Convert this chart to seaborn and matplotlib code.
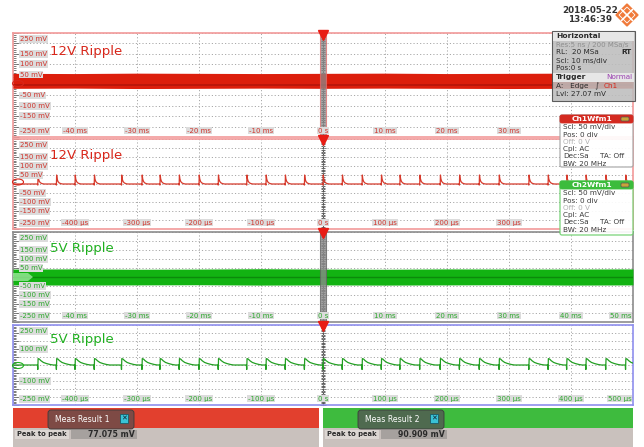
import numpy as np
import pandas as pd
import matplotlib
matplotlib.use("Agg")
import matplotlib.pyplot as plt
from matplotlib.patches import Rectangle, FancyBboxPatch, Polygon, Ellipse
from matplotlib.ticker import MultipleLocator
import seaborn as sns

# ---- values ----
# long record (10 ms/div): dense ripple shows as a band, envelope in mV
band_t_ms = [-50, -40, -30, -20, -10, 0, 10, 20, 30, 40, 50]
ripple12_hi = [56, 55, 57, 56, 55, 56, 57, 55, 56, 57, 56]
ripple12_lo = [-16, -15, -17, -16, -15, -16, -15, -16, -17, -16, -15]
ripple5_hi = [44, 45, 43, 44, 46, 44, 43, 45, 44, 44, 45]
ripple5_lo = [-44, -45, -44, -43, -45, -44, -45, -44, -43, -45, -44]

# zoomed record (100 us/div): switching events, us
spike_times_us = [-460, -430, -400, -369, -325, -292, -263, -232, -200, -169,
                  -123, -92, -61, -30, 0, 31, 63, 94, 124, 156, 189, 220,
                  252, 284, 332, 363, 393, 424, 456, 488]
# shape of one event (offset in us, level in mV)
spike12_dt = [-0.6, 0, 0.4, 1.2, 2.5, 4.5, 7, 10]
spike12_mv = [0, -6, 50, 28, 14, 6, 2, 0]
spike5_dt = [-0.5, 0, 0.5, 2.5, 5, 9, 14, 20, 25]
spike5_mv = [0, -28, 40, 37, 27, 16, 9, 3, 0]

ylab_full = [250, 150, 100, 50, -50, -100, -150, -250]
ylab_short = [250, 100, -100, -250]
xpos_ms = [-40, -30, -20, -10, 0, 10, 20, 30, 40, 50]
xlab_ms = ["-40 ms", "-30 ms", "-20 ms", "-10 ms", "0 s", "10 ms", "20 ms", "30 ms", "40 ms", "50 ms"]
xpos_us = [-400, -300, -200, -100, 0, 100, 200, 300, 400, 500]
xlab_us = ["-400 µs", "-300 µs", "-200 µs", "-100 µs", "0 s", "100 µs", "200 µs", "300 µs", "400 µs", "500 µs"]

meas_names = ["Meas Result 1", "Meas Result 2"]
meas_values = ["77.075 mV", "90.909 mV"]

RED = "#d8261a"
GREEN = "#1fb01f"
W, H = 644, 447

sns.set_theme(style="white")
plt.rcParams["font.family"] = ["DejaVu Sans"]

fig = plt.figure(figsize=(W / 100, H / 100), dpi=100)


def px_axes(x0, y0, x1, y1):
    return fig.add_axes([x0 / W, 1 - y1 / H, (x1 - x0) / W, (y1 - y0) / H])


def pulse_train(times, dt, mv):
    t, v = [-520], [0]
    for ts in times:
        t += [ts + d for d in dt]
        v += list(mv)
    t.append(520)
    v.append(0)
    return pd.DataFrame({"t": t, "v": v})


def setup_panel(ax, span, step, edge, lab_col, ylabs, xpos, xlabs, title, tcol, nx):
    ax.set_xlim(-span, span)
    ax.set_ylim(-250, 250)
    ax.set_xticks(np.arange(-span, span + 1, step))
    ax.set_yticks(np.arange(-250, 251, 50))
    ax.yaxis.set_minor_locator(MultipleLocator(10))
    ax.tick_params(axis="y", which="both", direction="in", left=True,
                   length=2.5, width=0.6, color="#666", labelleft=False)
    ax.tick_params(axis="y", which="major", length=4)
    ax.tick_params(axis="x", bottom=False, labelbottom=False)
    ax.set_xlabel("")
    ax.set_ylabel("")
    ax.grid(True, ls=(0, (1.2, 2.2)), color="#a8a8a8", lw=0.7)
    for s in ax.spines.values():
        s.set_color(edge)
        s.set_linewidth(1.2)
    # centre crosshair with tick marks
    sec = ax.secondary_yaxis(0.5)
    sec.yaxis.set_major_locator(MultipleLocator(50))
    sec.yaxis.set_minor_locator(MultipleLocator(10))
    sec.tick_params(which="both", direction="inout", length=3, width=0.6,
                    color="#555", labelleft=False, labelright=False)
    sec.tick_params(which="major", length=5)
    for s in sec.spines.values():
        s.set_color("#555")
        s.set_linestyle((0, (2, 1)))
        s.set_linewidth(0.8)
    box = dict(boxstyle="square,pad=0.12", fc="#dcdcdc", ec="none")
    for val in ylabs:
        if val == 250:
            va, dy = "top", -2
        elif val == -250:
            va, dy = "bottom", 2
        else:
            va, dy = "center", 0
        ax.annotate(f"{val} mV", xy=(0, val), xycoords=("axes fraction", "data"),
                    xytext=(5, dy), textcoords="offset points", ha="left", va=va,
                    fontsize=5, color=lab_col, bbox=box, zorder=6)
    # labels hidden under the channel info boxes are left out (nx)
    for xp, xl in list(zip(xpos, xlabs))[:nx]:
        ha = "right" if xp == span else "center"
        ax.annotate(xl, xy=(xp, 0), xycoords=("data", "axes fraction"),
                    xytext=(-1 if ha == "right" else 0, 2.5), textcoords="offset points",
                    ha=ha, va="bottom", fontsize=5, color=lab_col, bbox=box, zorder=6)
    ax.text(0.06, 0.82, title, transform=ax.transAxes, fontsize=9.5, color=tcol,
            va="center", ha="left", zorder=7)
    ax.plot([0.5], [0.985], transform=ax.transAxes, marker="v", ms=6.5,
            color="#e81c14", clip_on=False, zorder=8)


# ---- panel 1: 12 V long record ----
ax1 = px_axes(13, 33, 633, 137)
ax1.fill_between(band_t_ms, ripple12_lo, ripple12_hi, color="#dc1e0c", lw=0, zorder=3)
ax1.axhline(0, color="#b5150a", lw=1.2, zorder=3)
ax1.axvspan(-0.5, 0.5, fc="#8a8a8a", ec="#e07070", alpha=0.75, lw=0.8, zorder=4)
setup_panel(ax1, 50, 10, "#f29a9a", "#d0342c", ylab_full, xpos_ms, xlab_ms,
            "12V Ripple", "#d8261a", 8)

# ---- panel 2: 12 V zoom ----
ax2 = px_axes(13, 139, 633, 229)
sns.lineplot(data=pulse_train(spike_times_us, spike12_dt, spike12_mv), x="t", y="v",
             ax=ax2, color="#d63a2c", lw=0.9, estimator=None, sort=False, zorder=3)
setup_panel(ax2, 500, 100, "#f29a9a", "#d0342c", ylab_full, xpos_us, xlab_us,
            "12V Ripple", "#d8261a", 8)

# ---- panel 3: 5 V long record ----
ax3 = px_axes(13, 232, 633, 322)
ax3.fill_between(band_t_ms, ripple5_lo, ripple5_hi, color="#12b312", lw=0, zorder=3)
ax3.axhline(0, color="#0b8a0b", lw=1.0, zorder=3)
ax3.axvspan(-0.5, 0.5, fc="#8a8a8a", ec="#666", alpha=0.8, lw=0.8, zorder=4)
setup_panel(ax3, 50, 10, "#8c8c8c", "#2aa82a", ylab_full, xpos_ms, xlab_ms,
            "5V Ripple", GREEN, 10)

# ---- panel 4: 5 V zoom ----
ax4 = px_axes(13, 325, 633, 405)
sns.lineplot(data=pulse_train(spike_times_us, spike5_dt, spike5_mv), x="t", y="v",
             ax=ax4, color="#239f23", lw=0.9, estimator=None, sort=False, zorder=3)
setup_panel(ax4, 500, 100, "#8f8fee", "#2aa82a", ylab_short, xpos_us, xlab_us,
            "5V Ripple", GREEN, 10)

# ---- overlay in pixel coordinates for the instrument widgets ----
ov = fig.add_axes([0, 0, 1, 1], zorder=20)
ov.set_xlim(0, W)
ov.set_ylim(H, 0)
ov.set_facecolor("none")
ov.axis("off")


def rect(x0, y0, x1, y1, **kw):
    ov.add_patch(Rectangle((x0, y0), x1 - x0, y1 - y0, **kw))


def txt(x, y, s, **kw):
    kw.setdefault("fontsize", 5.2)
    kw.setdefault("va", "center")
    kw.setdefault("color", "#2a2a2a")
    ov.text(x, y, s, **kw)


# channel zero markers at the left edge
ov.add_patch(Ellipse((18, 83.5), 11, 6, fc="none", ec=RED, lw=0.8))
ov.add_patch(Ellipse((18, 182), 11, 6, fc="none", ec=RED, lw=0.8))
ov.add_patch(Polygon([[13, 273], [28, 273], [33, 277], [28, 281], [13, 281]],
                     fc="#9be89b", ec="none", alpha=0.8))
ov.add_patch(Ellipse((18, 365.5), 11, 6, fc="none", ec=GREEN, lw=0.8))

# timestamp and logo
txt(590, 10.5, "2018-05-22", fontsize=6.3, weight="bold", ha="center", color="#333")
txt(590, 20, "13:46:39", fontsize=6.3, weight="bold", ha="center", color="#333")
cx, cy, r = 627, 15, 11
ov.add_patch(Polygon([[cx, cy - r], [cx + r, cy], [cx, cy + r], [cx - r, cy]],
                     fc="#f07a3a", ec="#f07a3a"))
ov.plot([cx - r / 2, cx + r / 2], [cy - r / 2, cy + r / 2], color="white", lw=1.2)
ov.plot([cx - r / 2, cx + r / 2], [cy + r / 2, cy - r / 2], color="white", lw=1.2)
ov.add_patch(Polygon([[cx, cy - r + 3], [cx + r - 3, cy], [cx, cy + r - 3], [cx - r + 3, cy]],
                     fc="none", ec="white", lw=0.6))

# Horizontal / Trigger info box
rect(552, 31, 635, 101, fc="#bdbdbd", ec="#4a4a4a", lw=0.8, alpha=0.88)
rect(553, 32, 634, 40.5, fc="#e6e6e6", ec="none")
rect(553, 73, 634, 81.5, fc="#e6e6e6", ec="none")
txt(556, 36.3, "Horizontal", weight="bold", fontsize=5.4)
txt(556, 44.5, "Res:5 ns / 200 MSa/s", color="#8e8e8e", fontsize=5)
txt(556, 52.5, "RL:  20 MSa")
txt(632, 52.5, "RT", weight="bold", ha="right")
txt(556, 60.5, "Scl: 10 ms/div")
txt(556, 68.5, "Pos:0 s")
txt(556, 77.3, "Trigger", weight="bold", fontsize=5.4)
txt(632, 77.3, "Normal", color="#9a3fb0", ha="right")
txt(556, 86, "A:   Edge   ∫")
txt(604, 86, "Ch1", color=RED)
txt(556, 94.5, "Lvl: 27.07 mV")


def wfm_box(y0, y1, head, hcol, ecol):
    ov.add_patch(FancyBboxPatch((560, y0), 73, y1 - y0, boxstyle="round,pad=0,rounding_size=2",
                                fc="white", ec=ecol, lw=0.9, alpha=0.92))
    ov.add_patch(FancyBboxPatch((560, y0), 73, 8, boxstyle="round,pad=0,rounding_size=2",
                                fc=hcol, ec=hcol, lw=0.6))
    txt(592, y0 + 4, head, color="white", weight="bold", ha="center", fontsize=5.4)
    ov.add_patch(FancyBboxPatch((621, y0 + 2), 8, 4, boxstyle="round,pad=0,rounding_size=1",
                                fc="#c9a43a", ec="#555", lw=0.5))
    lines = ["Scl: 50 mV/div", "Pos: 0 div", "Off: 0 V", "Cpl: AC", "Dec:Sa", "BW: 20 MHz"]
    for i, s in enumerate(lines):
        yy = y0 + 12.5 + i * 7.2
        txt(563, yy, s, color="#b0b0b0" if s.startswith("Off") else "#3a3a3a")
        if s.startswith("Dec"):
            txt(600, yy, "TA: Off", color="#3a3a3a")


wfm_box(115, 167, "Ch1Wfm1", "#d42a20", "#a6a6a6")
wfm_box(181, 235, "Ch2Wfm1", "#3cbc3c", "#6ccf6c")

# measurement result strips
for x0, x1, hcol, tabcol, tx0, name, val in [
        (13, 319, "#e2402e", "#7e4a45", 48, meas_names[0], meas_values[0]),
        (323, 633, "#3ebb3e", "#4f6a4f", 358, meas_names[1], meas_values[1])]:
    rect(x0, 408, x1, 428, fc=hcol, ec="none")
    rect(x0, 428, x1, 447, fc="#c9c1bd", ec="none")
    ov.add_patch(FancyBboxPatch((tx0, 410), 86, 19, boxstyle="round,pad=0,rounding_size=3",
                                fc=tabcol, ec="#3a3a3a", lw=0.6))
    txt(tx0 + 7, 419, name, color="white", fontsize=5.6)
    rect(tx0 + 72, 414, tx0 + 80, 423, fc="#39c2d6", ec="#1a5a66", lw=0.6)
    txt(tx0 + 76, 418.7, "✕", color="#123", fontsize=5, ha="center", weight="bold")
    rect(x0 + 2, 430, x0 + 56, 438.5, fc="#dcd6d2", ec="none")
    txt(x0 + 4, 434.3, "Peak to peak", weight="bold", fontsize=4.9)
    rect(x0 + 58, 430, x0 + 124, 438.5, fc="#a6a19e", ec="none")
    txt(x0 + 122, 434.3, val, weight="bold", fontsize=5.6, ha="right")

fig.savefig("out.png", dpi=100)
